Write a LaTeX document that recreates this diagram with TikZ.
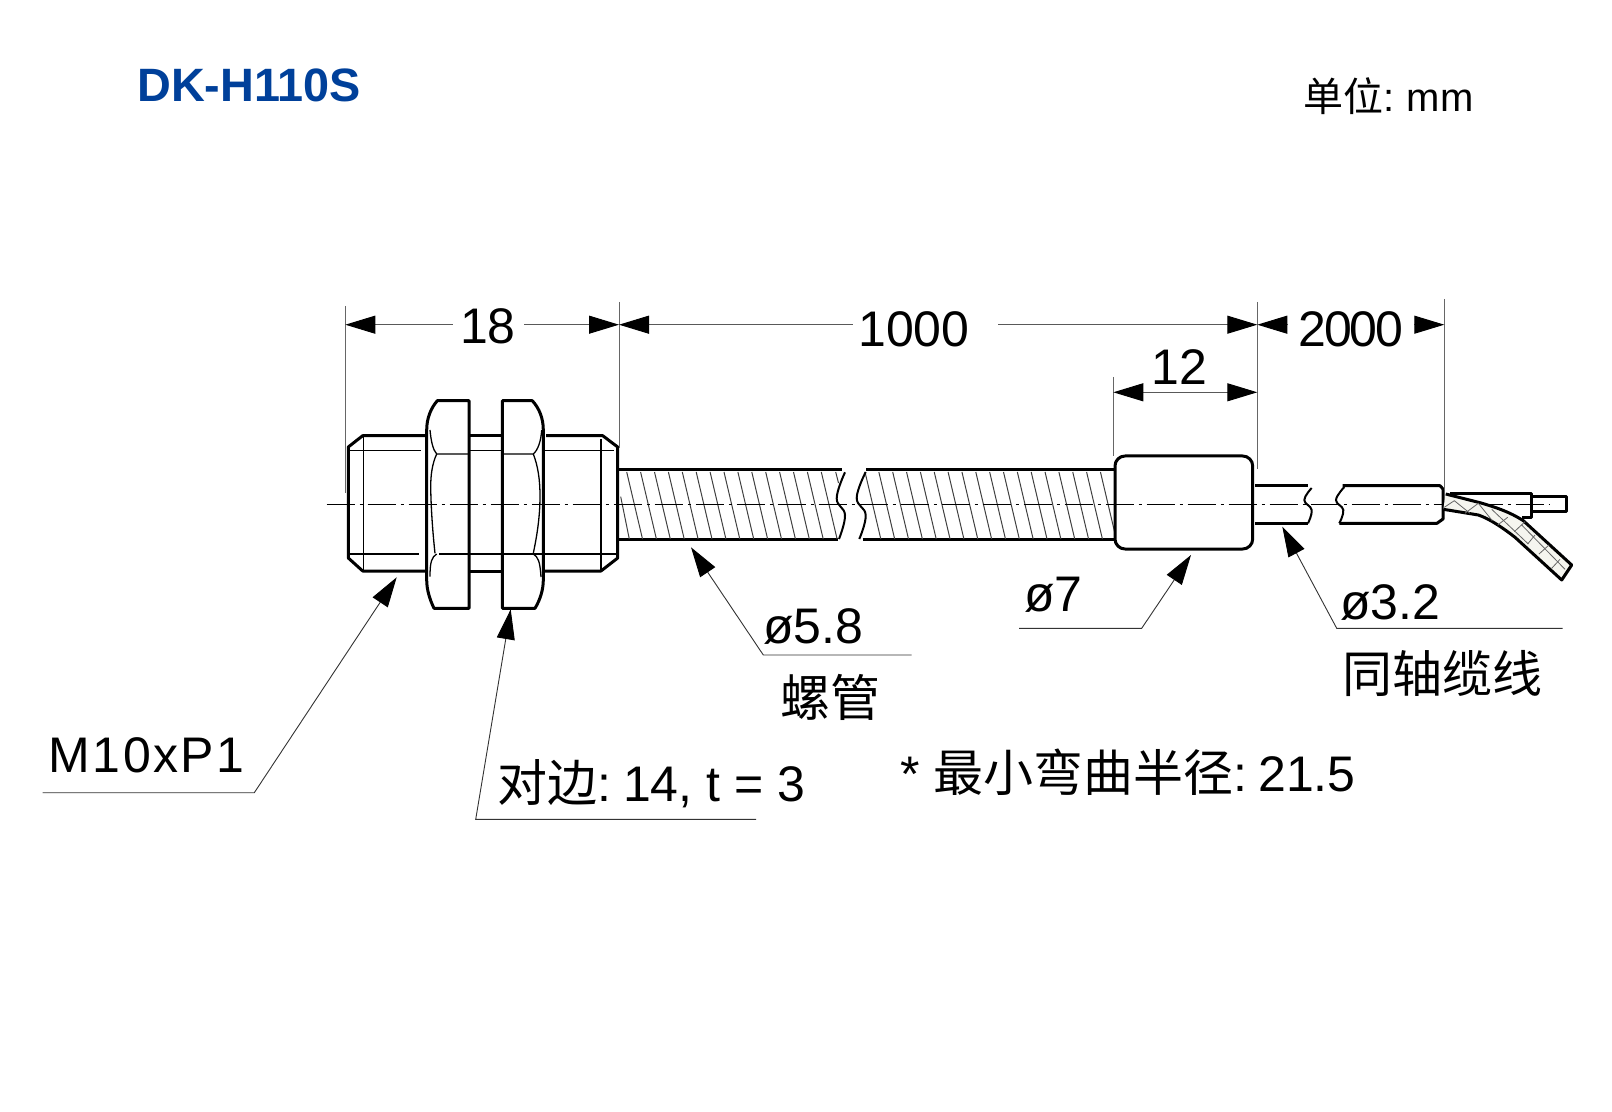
\documentclass[tikz,border=0pt]{standalone}
\usepackage{fontspec}
\setmainfont{Liberation Sans}
\newfontfamily\cjk{Noto Sans CJK SC}
\usetikzlibrary{arrows.meta,calc,positioning}
\definecolor{titleblue}{HTML}{00409A}
\definecolor{braidfill}{HTML}{F5F5EF}
\tikzset{
    body_line/.style={line width=1.5pt, line join=round},
    tube_line/.style={line width=1.5pt},
    break_line/.style={line width=1pt},
    thin_line/.style={line width=0.65pt},
    hatch_line/.style={line width=0.5pt, black!75},
    braid_hatch/.style={line width=0.4pt, black!60},
    center_line/.style={line width=0.55pt, dash pattern=on 14pt off 2.5pt on 1.5pt off 2.5pt},
    ext_line/.style={line width=0.5pt, black!60},
    dim_line/.style={line width=0.5pt, black!65, >={Triangle[length=15pt,width=9pt,black]}},
    lead_line/.style={line width=0.45pt, black!80, >={Triangle[length=15pt,width=9pt,black]}},
    dim_text/.style={inner sep=0pt, anchor=base, font=\fontsize{25}{30}\selectfont},
    side_text/.style={inner sep=0pt, anchor=base west, font=\fontsize{25}{30}\selectfont},
    cjk_text/.style={inner sep=0pt, anchor=center, font=\fontsize{25}{29}\selectfont\cjk},
}

\begin{document}
\begin{tikzpicture}
        [x=0.5pt, y=-0.5pt]
        \useasboundingbox (0,0) rectangle (1612,1112);

        % Threaded body, both ends
        \draw[body_line] (426,435.7) -- (362.7,435.7) -- (348.3,447) -- (348.3,558) -- (362.7,571) -- (426,571);
        \draw[body_line] (546,435.7) -- (602.7,435.7) -- (617.7,447) -- (617.7,558) -- (601,571) -- (543,571);
        \draw[body_line] (469,435.7) -- (502,435.7);
        \draw[body_line] (469,571) -- (502,571);
        \draw[thin_line] (363.7,436) -- (363.7,571);
        \draw[thin_line] (601,439) -- (601,571);
        \draw[thin_line] (348.3,450.7) -- (420.7,450.7);
        \draw[thin_line] (348.3,554) -- (419,554);
        \draw[thin_line] (469,450.7) -- (502,450.7);
        \draw[thin_line] (439,554) -- (616,554);
        \draw[thin_line] (544,450.7) -- (614,450.7);

        % Nuts
        \draw[body_line] (469,400.7) -- (437.3,400.7) .. controls (431,408) and (426.7,418) .. (426.7,430)
            -- (426.7,580) .. controls (426.7,590) and (430,600) .. (434,608.3) -- (469,608.3) -- cycle;
        \draw[body_line] (502.3,400.7) -- (532.3,400.7) .. controls (539,408) and (543.3,418) .. (543.3,430)
            -- (543.3,580) .. controls (543.3,590) and (540,600) .. (535,608.3) -- (502.3,608.3) -- cycle;
        \draw[thin_line] (430,430) .. controls (431,441) and (433,450) .. (436.7,454) -- (469,454);
        \draw[thin_line] (436.7,454) .. controls (432,464) and (430.7,476) .. (430.7,486.7)
            .. controls (431,510) and (433,535) .. (435,553.3);
        \draw[thin_line] (436.7,554) .. controls (432,557) and (430,561) .. (430,576.7);
        \draw[thin_line] (541.7,430) .. controls (541,441) and (538,450) .. (533.3,454) -- (502.3,454);
        \draw[thin_line] (533.3,454) .. controls (538,466) and (540,480) .. (540,496)
            .. controls (540,520) and (536,540) .. (533.3,553.3);
        \draw[thin_line] (533.3,554) .. controls (538,557) and (540,561) .. (541,577);

        % Conduit
        \draw[tube_line] (617.7,469.3) -- (841.7,469.3);
        \draw[tube_line] (617.7,539) -- (838,539);
        \draw[tube_line] (866,469.3) -- (1115,469.3);
        \draw[tube_line] (862.7,539) -- (1115,539);
        \draw[hatch_line] (620.7,496.7) -- (629.3,539);
        \foreach \k in {0,...,14}
            \draw[hatch_line] ({626.7+13.9*\k},472) -- ++(15.8,67);
        \draw[hatch_line] (835.7,472) -- (838.5,483);
        \foreach \k in {0,...,17}
            \draw[hatch_line] ({865+13.85*\k},472) -- ++(15.8,67);
        \draw[break_line] plot[smooth, tension=0.7] coordinates {(845,472.3) (836.7,498.3) (845,515) (839,539)};
        \draw[break_line] plot[smooth, tension=0.7] coordinates {(865.7,472) (856.7,498) (865.7,515) (859.3,539)};

        % Ferrule
        \draw[body_line, fill=white, rounded corners=10pt/2] (1115,456) rectangle (1252.7,549);

        % Coaxial cable
        \draw[body_line] (1255,485.7) -- (1308,485.7);
        \draw[body_line] (1255,523.3) -- (1308,523.3);
        \draw[break_line] plot[smooth, tension=0.7] coordinates {(1311.7,488) (1304.3,500) (1311.7,510) (1308,523.3)};
        \draw[break_line] plot[smooth, tension=0.7] coordinates {(1344.3,487) (1336,500) (1343.3,510) (1339.3,523.3)};
        \draw[body_line] (1342.7,485.7) -- (1440,485.7) -- (1443,489) -- (1443,519) -- (1437,523.3) -- (1339.3,523.3);

        % Centre line
        \coordinate (axis_left) at (326.7,504.3);
        \coordinate (axis_right) at (1550,504.3);
        \draw[center_line] (axis_left) -- (axis_right);

        % Wire ends
        \draw[body_line] (1533,496.7) -- (1566.7,496.7) -- (1566.7,511.7) -- (1533,511.7);
        \draw[body_line] (1450,494) -- (1531.7,494) -- (1531.7,517.3) -- (1522.3,517.3);

        % Braid
        \draw[body_line, fill=braidfill] (1445.7,494) -- (1480,502.7) .. controls (1495,507) and (1510,512) .. (1523.3,520.7)
            -- (1571.7,565) -- (1561.7,580) -- (1515,537.3) .. controls (1503,528) and (1490,519) .. (1478.3,515)
            -- (1443.3,509.3);
        \draw[braid_hatch] (1444.3,507.3) -- (1454.3,500.7) -- (1470,513.3);
        \draw[braid_hatch] (1465,513.3) -- (1478.3,503.3) -- (1492.3,520.7);
        \draw[braid_hatch] (1497.7,525) -- (1507.7,517.3);
        \draw[braid_hatch] (1491.7,509.3) -- (1528.3,544);
        \draw[braid_hatch] (1514.3,531.7) -- (1525,521.7);
        \draw[braid_hatch] (1527.7,544) -- (1535,535);
        \draw[braid_hatch] (1521.7,525) -- (1565,569.3);
        \draw[braid_hatch] (1539,554) -- (1549,545);
        \draw[braid_hatch] (1551.7,568.3) -- (1560,559.3);

        % Extension lines
        \draw[ext_line] (345.3,306) -- (345.3,493);
        \draw[ext_line] (619,302) -- (619,448);
        \draw[ext_line] (1113.3,377) -- (1113.3,456);
        \draw[ext_line] (1257.3,302) -- (1257.3,469);
        \draw[ext_line] (1444.3,299) -- (1444.3,490);

        % Title and unit
        \node[inner sep=0pt, anchor=base west, text=titleblue, font=\fontsize{23.4}{28}\selectfont\bfseries] (title) at (137,102) {DK-H110S};
        \node[inner sep=0pt, anchor=base west, font=\fontsize{20}{24}\selectfont] (unit) at (1303,111.5) {{\cjk 单位}:\hspace{6.2pt}mm};

        % Dimension values
        \node[dim_text] (len_18) at (488,343.5) {18};
        \node[dim_text] (len_1000) at (914,346.5) {1000};
        \node[dim_text] (len_2000) at (1351,346.5) {\addfontfeatures{LetterSpace=-4}2000};
        \node[dim_text] (len_12) at (1179,385) {12};

        % Dimension lines
        \coordinate (dim_a) at (345.3,324.7);
        \coordinate (dim_b) at (619,324.7);
        \coordinate (dim_c) at (1257.3,324.7);
        \coordinate (dim_d) at (1444.3,324.7);
        \coordinate (dim_e) at (1113.3,392.3);
        \coordinate (dim_f) at (1257.3,392.3);
        \coordinate (gap_a) at (452.5,324.7);
        \coordinate (gap_b) at (524,324.7);
        \coordinate (gap_c) at (852.5,324.7);
        \coordinate (gap_d) at (998.3,324.7);
        \coordinate (gap_e) at (1288,324.7);
        \coordinate (gap_f) at (1414,324.7);
        \draw[dim_line, ->] (gap_a) -- (dim_a);
        \draw[dim_line, ->] (gap_b) -- (dim_b);
        \draw[dim_line, ->] (gap_c) -- (dim_b);
        \draw[dim_line, ->] (gap_d) -- (dim_c);
        \draw[dim_line, ->] (gap_e) -- (dim_c);
        \draw[dim_line, ->] (gap_f) -- (dim_d);
        \draw[dim_line, <->] (dim_e) -- (dim_f);

        % Leaders and their labels
        \node[side_text] (thread) at (48.5,772.7) {\addfontfeatures{LetterSpace=4.7}M10xP1};
        \coordinate (thread_end) at (42.7,792.7);
        \coordinate (thread_knee) at (254.3,792.7);
        \coordinate (thread_tip) at (396.7,577.3);
        \draw[lead_line, ->] (thread_end) -- (thread_knee) -- (thread_tip);

        \node[side_text] (across) at (497,801) {{\cjk 对边}:\hspace{5.9pt}14, t = 3};
        \coordinate (across_end) at (756,819.3);
        \coordinate (across_knee) at (475.7,819.3);
        \coordinate (across_tip) at (510.7,609.3);
        \draw[lead_line, ->] (across_end) -- (across_knee) -- (across_tip);

        \node[side_text] (dia_tube) at (763,643.2) {ø5.8};
        \node[cjk_text] (tube_name) at (830,697) {螺管};
        \coordinate (tube_end) at (911.7,655);
        \coordinate (tube_knee) at (763.3,655);
        \coordinate (tube_tip) at (691,547.3);
        \draw[lead_line, ->] (tube_end) -- (tube_knee) -- (tube_tip);

        \node[side_text] (dia_ferrule) at (1024,611) {ø7};
        \coordinate (ferrule_end) at (1019,628.3);
        \coordinate (ferrule_knee) at (1141.7,628.3);
        \coordinate (ferrule_tip) at (1191,555);
        \draw[lead_line, ->] (ferrule_end) -- (ferrule_knee) -- (ferrule_tip);

        \node[side_text] (dia_cable) at (1340,619) {ø3.2};
        \node[cjk_text] (cable_name) at (1442,673) {同轴缆线};
        \coordinate (cable_end) at (1562.7,628.3);
        \coordinate (cable_knee) at (1336.7,628.3);
        \coordinate (cable_tip) at (1282.3,526.7);
        \draw[lead_line, ->] (cable_end) -- (cable_knee) -- (cable_tip);

        % Bend note
        \node[side_text] (bend) at (900,791.2) {* {\cjk 最小弯曲半径}:\hspace{5.3pt}21.5};
    \end{tikzpicture}
\end{document}
